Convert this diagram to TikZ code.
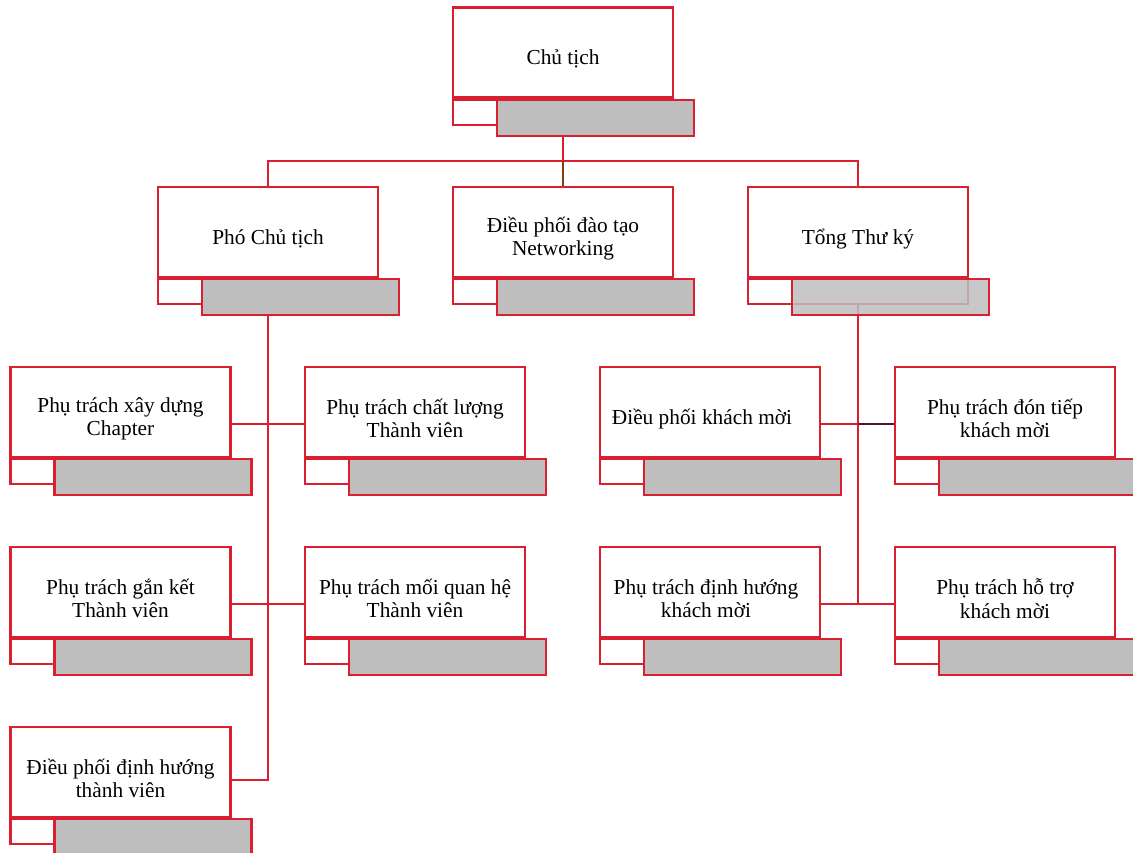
\documentclass[tikz,border=0pt]{standalone}
\usepackage{fontspec}
\setmainfont{Liberation Serif}
\usepackage{tikz}
\definecolor{boxred}{RGB}{218,32,48}
\definecolor{boxgray}{RGB}{190,190,190}
\definecolor{brownline}{RGB}{140,60,10}
\definecolor{plumline}{RGB}{90,20,50}
\tikzstyle{post} = [draw=boxred, line width=1.6pt, fill=white, rectangle,
minimum width=165pt, minimum height=67.5pt]
\tikzstyle{posttext} = [align=center, yshift=-5pt, font=\fontsize{16}{17.5}\selectfont]
\tikzstyle{tabbox} = [draw=boxred, line width=1.6pt, fill=white, rectangle, inner sep=0pt,
minimum width=165pt, minimum height=18.75pt, anchor=north west]
\tikzstyle{graybox} = [draw=boxred, line width=1.6pt, fill=boxgray, rectangle, inner sep=0pt,
minimum width=147.75pt, minimum height=27pt, anchor=north west, xshift=33pt]
\tikzstyle{link} = [draw=boxred, line width=1.6pt]

\begin{document}
\begin{tikzpicture}[x=0.75pt, y=-0.75pt]
		\useasboundingbox (0,0) rectangle (1133,853);
		\coordinate (bus) at (0,161);

		\node [post, label={[posttext, name=ct_x]center:Chủ tịch}] (ct) at (563,52.5) {};
		\node [post, label={[posttext, name=vp_x]center:Phó Chủ tịch}] (vp) at (268,232) {};
		\node [post, label={[posttext, name=dt_x]center:Điều phối đào tạo\\Networking}] (dt) at (563,232) {};
		\node [post, label={[posttext, name=tk_x]center:Tổng Thư ký}] (tk) at (858,232) {};

		\node [post, label={[posttext, name=l1_x]center:Phụ trách xây dựng\\Chapter}] (l1) at (120.5,412) {};
		\node [post, label={[posttext, name=l2_x]center:Phụ trách chất lượng\\Thành viên}] (l2) at (415,412) {};
		\node [post, label={[posttext, name=l3_x]center:Phụ trách gắn kết\\Thành viên}] (l3) at (120.5,592) {};
		\node [post, label={[posttext, name=l4_x]center:Phụ trách mối quan hệ\\Thành viên}] (l4) at (415,592) {};
		\node [post, label={[posttext, name=l5_x]center:Điều phối định hướng\\thành viên}] (l5) at (120.5,772) {};

		\node [post, label={[posttext, name=r1_x, xshift=-6pt]center:Điều phối khách mời}] (r1) at (710,412) {};
		\node [post, label={[posttext, name=r2_x]center:Phụ trách đón tiếp\\khách mời}] (r2) at (1005,412) {};
		\node [post, label={[posttext, name=r3_x, xshift=-3pt]center:Phụ trách định hướng\\khách mời}] (r3) at (710,592) {};
		\node [post, label={[posttext, name=r4_x]center:Phụ trách hỗ trợ\\khách mời}] (r4) at (1005,592) {};

		\coordinate (l1_j) at ([yshift=-9pt]l1.east);
		\coordinate (l2_j) at ([yshift=-9pt]l2.west);
		\coordinate (l3_j) at ([yshift=-9pt]l3.east);
		\coordinate (l4_j) at ([yshift=-9pt]l4.west);
		\coordinate (l5_j) at ([yshift=-6pt]l5.east);
		\coordinate (r1_j) at ([yshift=-9pt]r1.east);
		\coordinate (r2_j) at ([yshift=-9pt]r2.west);
		\coordinate (r3_j) at ([yshift=-9pt]r3.east);
		\coordinate (r4_j) at ([yshift=-9pt]r4.west);

		\draw [link] (ct.south) -- (ct.south |- bus);
		\draw [link] (vp.north) -- (vp.north |- bus) -- (tk.north |- bus) -- (tk.north);
		\draw [link, draw=brownline] (ct.south |- bus) -- (dt.north);

		\draw [link] (vp.south) -- (vp.south |- l5_j) -- (l5_j);
		\draw [link] (l1_j) -- (l2_j);
		\draw [link] (l3_j) -- (l4_j);

		\draw [link] (tk.south) -- (tk.south |- r3_j);
		\draw [link] (r1_j) -- (r2_j);
		\draw [link, draw=plumline] (r1_j -| tk.south) -- (r2_j);
		\draw [link] (r3_j) -- (r4_j);

		\foreach \p in {ct,vp,dt,tk,l1,l2,l3,l4,l5,r1,r2,r3,r4} {
			\node [tabbox] (\p_t) at (\p.south west) {};
		}
		\foreach \p in {ct,vp,dt,l1,l2,l3,l4,l5,r1,r2,r3,r4} {
			\node [graybox] (\p_s) at (\p.south west) {};
		}
		\node [graybox, fill opacity=0.85] (tk_s) at (tk.south west) {};
\end{tikzpicture}
\end{document}
